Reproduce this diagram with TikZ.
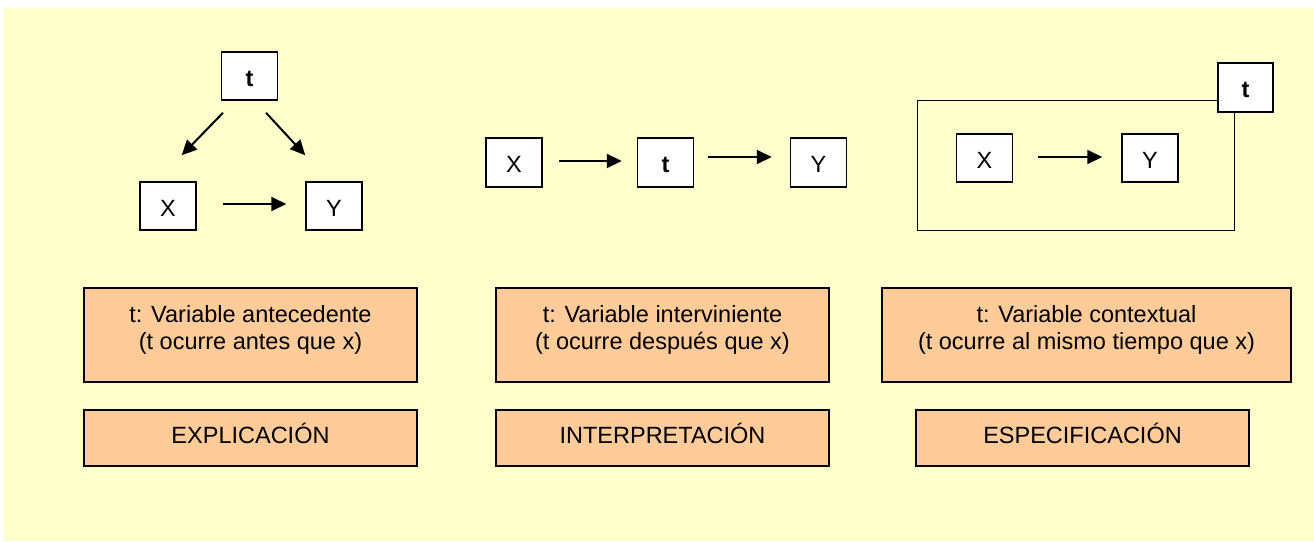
\documentclass[tikz,border=0pt]{standalone}
\usepackage{fontspec}
\setmainfont{Liberation Sans}
\usetikzlibrary{arrows.meta}
\definecolor{bgyellow}{HTML}{FFFFCC}
\definecolor{boxorange}{HTML}{FFCC99}
\tikzset{
  varbox/.style={draw, line width=1.5pt, fill=white, inner sep=0pt,
    minimum width=56pt, minimum height=48pt,
    font=\fontsize{23.5}{28}\selectfont, text height=20pt, text depth=0pt},
  descbox/.style={draw, line width=1.5pt, fill=boxorange, inner sep=0pt,
    minimum height=94pt},
  namebox/.style={draw, line width=1.5pt, fill=boxorange, inner sep=0pt,
    minimum height=56pt},
  lbl/.style={anchor=base, inner sep=0pt, font=\fontsize{23.5}{28}\selectfont},
  arr/.style={line width=2pt, -{Triangle[length=15pt,width=14pt]}}
}
\begin{document}
\begin{tikzpicture}[x=1pt,y=-1pt]
\useasboundingbox (0,0) rectangle (1314,541);
\fill[bgyellow] (4,8) rectangle (1314,541);

% Panel 1
\node[varbox] (t1) at (249.5,76) {\bfseries t};
\node[varbox] (X1) at (168,206) {X};
\node[varbox] (Y1) at (334,206) {Y};
\draw[arr] ([shift={(-26.5pt,-12pt)}]t1.south) -- ([shift={(-15pt,26pt)}]X1.north east);
\draw[arr] ([shift={(16.5pt,-12pt)}]t1.south) -- ([shift={(0pt,26pt)}]Y1.north west);
\draw[arr, shorten <=26pt, shorten >=19pt] ([yshift=2pt]X1.east) -- ([yshift=2pt]Y1.west);

% Panel 2
\node[varbox, minimum height=49pt] (X2) at (514,162.5) {X};
\node[varbox, minimum height=49pt] (t2) at (665.5,162.5) {\bfseries t};
\node[varbox, minimum height=49pt] (Y2) at (818.5,162.5) {Y};
\draw[arr, shorten <=16pt, shorten >=15pt] ([yshift=1.5pt]X2.east) -- ([yshift=1.5pt]t2.west);
\draw[arr, shorten <=14pt, shorten >=18pt] ([yshift=5.5pt]t2.east) -- ([yshift=5.5pt]Y2.west);

% Panel 3
\draw[line width=1pt] (917,100) rectangle (1234,230);
\node[varbox, minimum width=55pt, minimum height=49pt] (t3) at (1245.5,87.5) {\bfseries t};
\node[varbox] (X3) at (984.5,158) {X};
\node[varbox] (Y3) at (1150,158) {Y};
\draw[arr, shorten <=25pt, shorten >=19pt] ([yshift=1pt]X3.east) -- ([yshift=1pt]Y3.west);

% Description boxes
\node[descbox, minimum width=333pt] (d1) at (250.5,335) {};
\node[descbox, minimum width=333pt] (d2) at (662.5,335) {};
\node[descbox, minimum width=409pt] (d3) at (1086.5,335) {};
\node[lbl] (d1a) at (250.5,322) {t: Variable antecedente};
\node[lbl] (d1b) at (250.5,349.5) {(t ocurre antes que x)};
\node[lbl] (d2a) at (662.5,322) {t: Variable interviniente};
\node[lbl] (d2b) at (662.5,349.5) {(t ocurre después que x)};
\node[lbl] (d3a) at (1086.5,322) {t: Variable contextual};
\node[lbl] (d3b) at (1086.5,349.5) {(t ocurre al mismo tiempo que x)};

% Name boxes
\node[namebox, minimum width=333pt] (e1) at (250.5,438) {};
\node[namebox, minimum width=333pt] (e2) at (662.5,438) {};
\node[namebox, minimum width=333pt] (e3) at (1082.5,438) {};
\node[lbl] (e1t) at (250.5,443) {EXPLICACIÓN};
\node[lbl] (e2t) at (662.5,443) {INTERPRETACIÓN};
\node[lbl] (e3t) at (1082.5,443) {ESPECIFICACIÓN};
\end{tikzpicture}
\end{document}
